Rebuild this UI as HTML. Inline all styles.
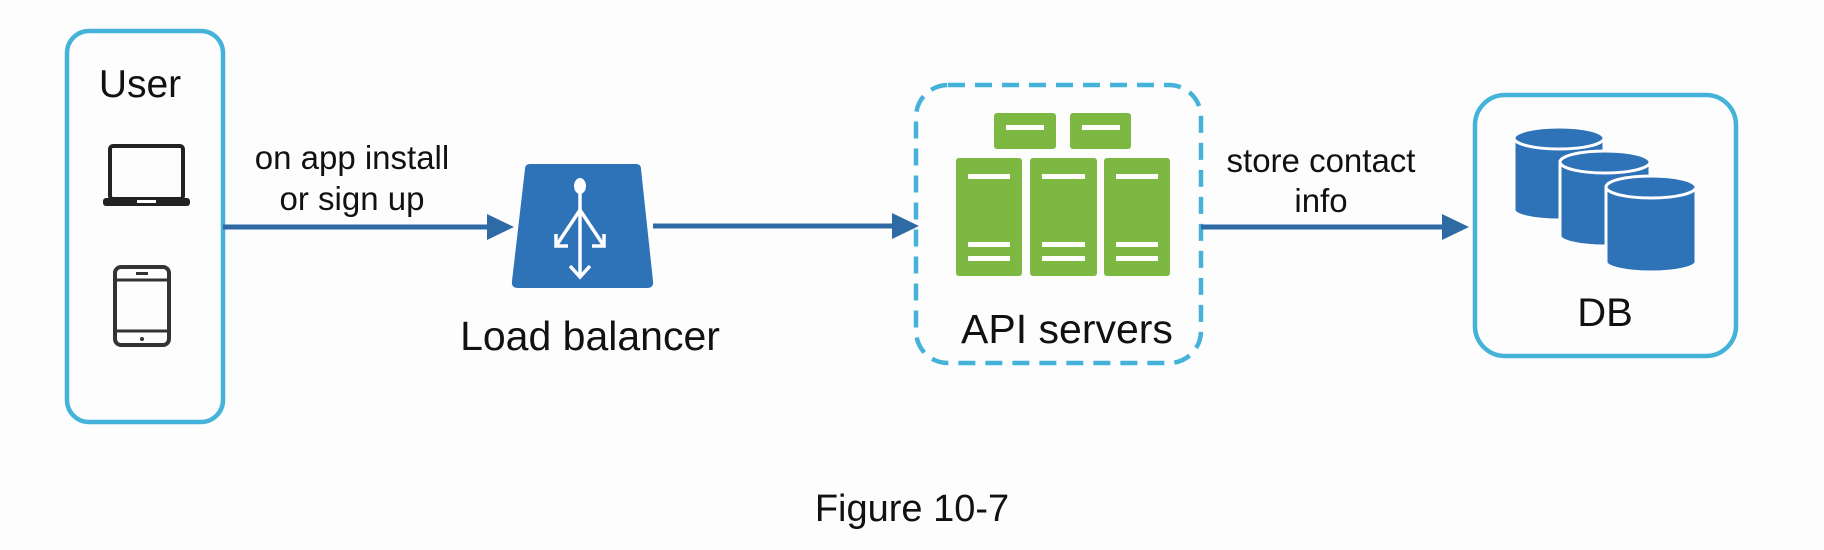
<!DOCTYPE html>
<html><head><meta charset="utf-8"><style>
html,body{margin:0;padding:0;background:#fdfdfd;}
svg{display:block}
text{font-family:"Liberation Sans",Arial,sans-serif;fill:#111}
</style></head><body>
<svg width="1824" height="550" viewBox="0 0 1824 550" xmlns="http://www.w3.org/2000/svg">
<rect width="1824" height="550" fill="#fdfdfd"/>
<!-- User box -->
<rect x="67" y="31" width="156" height="391" rx="22" fill="none" stroke="#45b3d9" stroke-width="4.5"/>
<text x="140" y="97" font-size="39" text-anchor="middle">User</text>
<!-- laptop -->
<rect x="110" y="146" width="73" height="53" rx="3" fill="none" stroke="#222" stroke-width="4"/>
<rect x="103" y="198" width="87" height="8" rx="3" fill="#222"/>
<rect x="137" y="200" width="19" height="3" fill="#fff"/>
<!-- tablet -->
<rect x="115" y="267" width="54" height="78" rx="6" fill="none" stroke="#333" stroke-width="4"/>
<line x1="115" y1="280" x2="169" y2="280" stroke="#333" stroke-width="3"/>
<line x1="115" y1="331" x2="169" y2="331" stroke="#333" stroke-width="3"/>
<rect x="136" y="272" width="12" height="3" fill="#333"/>
<circle cx="142" cy="339" r="2" fill="#333"/>
<!-- arrow 1 -->
<line x1="223" y1="227" x2="490" y2="227" stroke="#2e6aa3" stroke-width="5"/>
<polygon points="487,214 514,227 487,240" fill="#2e6aa3"/>
<text x="352" y="169" font-size="33" text-anchor="middle">on app install</text>
<text x="352" y="210" font-size="33" text-anchor="middle">or sign up</text>
<!-- LB -->
<path d="M530,164 L636,164 Q641,164 641,169 L653,281 Q654,288 647,288 L518,288 Q511,288 512,281 L525,169 Q525,164 530,164 Z" fill="#2e72b8"/>
<g stroke="#fff" stroke-width="3.5" fill="none">
<line x1="580" y1="190" x2="580" y2="276"/>
<path d="M580,210 L556,246 M580,210 L604,246"/>
<path d="M556,234 L556,246 L568,246 M604,234 L604,246 L592,246"/>
<path d="M570,266 L580,277 L590,266"/>
</g>
<ellipse cx="580" cy="186" rx="6" ry="8" fill="#fff"/>
<text x="590" y="350" font-size="41" text-anchor="middle">Load balancer</text>
<!-- arrow 2 -->
<line x1="653" y1="226" x2="895" y2="226" stroke="#2e6aa3" stroke-width="5"/>
<polygon points="892,213 919,226 892,239" fill="#2e6aa3"/>
<!-- API dashed box -->
<rect x="916" y="85" width="285" height="278" rx="32" fill="none" stroke="#45b3d9" stroke-width="4.5" stroke-dasharray="17,10"/>
<g fill="#7cb842">
<rect x="994" y="113" width="62" height="36" rx="3"/>
<rect x="1070" y="113" width="61" height="36" rx="3"/>
<rect x="956" y="158" width="66" height="118" rx="3"/>
<rect x="1030" y="158" width="67" height="118" rx="3"/>
<rect x="1104" y="158" width="66" height="118" rx="3"/>
</g>
<g fill="#fff">
<rect x="1006" y="125" width="38" height="5"/><rect x="1082" y="125" width="38" height="5"/>
<rect x="968" y="174" width="42" height="5"/><rect x="1042" y="174" width="43" height="5"/><rect x="1116" y="174" width="42" height="5"/>
<rect x="968" y="242" width="42" height="5"/><rect x="1042" y="242" width="43" height="5"/><rect x="1116" y="242" width="42" height="5"/>
<rect x="968" y="256" width="42" height="5"/><rect x="1042" y="256" width="43" height="5"/><rect x="1116" y="256" width="42" height="5"/>
</g>
<text x="1067" y="343" font-size="41" text-anchor="middle">API servers</text>
<!-- arrow 3 -->
<line x1="1201" y1="227" x2="1445" y2="227" stroke="#2e6aa3" stroke-width="5"/>
<polygon points="1442,214 1469,227 1442,240" fill="#2e6aa3"/>
<text x="1321" y="172" font-size="33" text-anchor="middle">store contact</text>
<text x="1321" y="212" font-size="33" text-anchor="middle">info</text>
<!-- DB box -->
<rect x="1475" y="95" width="261" height="261" rx="30" fill="none" stroke="#45b3d9" stroke-width="4.5"/>
<g fill="#2e72b8" stroke="#fdfdfd" stroke-width="3">
<path d="M1514,138 L1514,210 A45,10 0 0 0 1604,210 L1604,138 Z"/><ellipse cx="1559" cy="138" rx="45" ry="11"/>
<path d="M1560,162 L1560,236 A45,10 0 0 0 1650,236 L1650,162 Z"/><ellipse cx="1605" cy="162" rx="45" ry="11"/>
<path d="M1606,187 L1606,262 A45,10 0 0 0 1696,262 L1696,187 Z"/><ellipse cx="1651" cy="187" rx="45" ry="11"/>
</g>
<text x="1605" y="326" font-size="40" text-anchor="middle">DB</text>
<text x="912" y="521" font-size="38" text-anchor="middle">Figure 10-7</text>
</svg>
</body></html>
